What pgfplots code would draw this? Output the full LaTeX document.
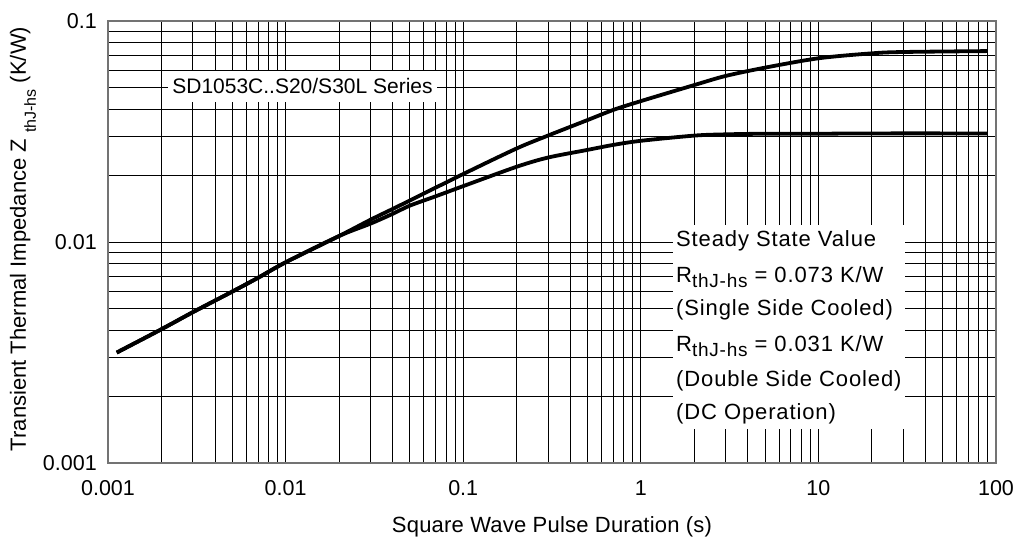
\documentclass[border=0pt]{standalone}
\usepackage{pgfplots}
\pgfplotsset{compat=1.18}
\usepackage{fontspec}
\setmainfont{Liberation Sans}
\newcommand{\fs}{\fontsize{22}{26}\selectfont}
\newcommand{\ft}{\fontsize{21.5}{26}\selectfont}
\newcommand{\subA}{\raisebox{-5pt}{\fontsize{19}{19}\selectfont thJ-hs}}
\newcommand{\subY}{\raisebox{-10pt}{\fontsize{16}{16}\selectfont thJ-hs}}
\begin{document}
\begin{tikzpicture}
\useasboundingbox (-108pt,-77pt) rectangle (909pt,463pt);
\begin{axis}[
  at={(0pt,0pt)}, anchor=south west,
  scale only axis, width=888pt, height=442pt,
  xmode=log, ymode=log,
  xmin=0.001, xmax=100, ymin=0.001, ymax=0.1,
  xtick={0.001,0.01,0.1,1,10,100},
  xticklabels={0.001,0.01,0.1,1,10,100},
  ytick={0.001,0.01,0.1},
  yticklabels={0.001,0.01,0.1},
  grid=both,
  major grid style={black, line width=0.8pt},
  minor grid style={black, line width=0.8pt},
  major tick length=0pt, minor tick length=0pt,
  axis line style={black!55, line width=1.5pt},
  /pgf/number format/assume math mode=true,
  tick label style={font=\ft},
  xticklabel style={anchor=base, yshift=-32pt, inner sep=0pt},
  yticklabel style={anchor=east, inner sep=0pt, xshift=-11pt},
  clip=false,
]
% upper curve: single side cooled
\addplot[black, line width=3.8pt, smooth] coordinates {
 (0.00112,0.00316) (0.002,0.00403) (0.003,0.00481) (0.005,0.00596)
 (0.007,0.00689) (0.01,0.00809) (0.02,0.01064) (0.03,0.0126)
 (0.04,0.0141) (0.05,0.0154) (0.1,0.0203) (0.2,0.0265) (0.3,0.0303)
 (0.5,0.0356) (0.7,0.0396) (1,0.0434) (2,0.0513) (3,0.0564)
 (5,0.0615) (10,0.0678) (20,0.0714) (30,0.0724) (90,0.0731)
};
% lower curve: double side cooled
\addplot[black, line width=3.8pt, smooth] coordinates {
 (0.00112,0.00316) (0.002,0.00403) (0.003,0.00481) (0.005,0.00596)
 (0.007,0.00689) (0.01,0.00809) (0.02,0.01064) (0.03,0.0121)
 (0.04,0.0134) (0.05,0.0146) (0.07,0.0161) (0.1,0.0179) (0.2,0.0219)
 (0.3,0.0241) (0.5,0.0261) (0.7,0.0275) (1,0.0287) (2,0.0303)
 (3,0.0307) (5,0.0309) (10,0.0309) (20,0.0310) (90,0.0310)
};
\end{axis}
% series label
\fill[white] (60pt,361pt) rectangle (329pt,392pt);
\node[anchor=base, inner sep=0pt] at (194.5pt,369.7pt) {\fontsize{21}{25}\selectfont SD1053C..S20/S30L Series};
% steady state box
\fill[white] (565pt,34pt) rectangle (797pt,238pt);
\begin{scope}[every node/.style={anchor=base west, inner sep=0pt}]
\node at (568pt,216.3pt) {\fs\addfontfeature{LetterSpace=4}Steady State Value};
\node at (568pt,180pt) {\fs\addfontfeature{LetterSpace=4}R\subA{} = 0.073 K/W};
\node at (568pt,147pt) {\fs\addfontfeature{LetterSpace=4}(Single Side Cooled)};
\node at (568pt,111.3pt) {\fs\addfontfeature{LetterSpace=4}R\subA{} = 0.031 K/W};
\node at (568pt,76.3pt) {\fs\addfontfeature{LetterSpace=4}(Double Side Cooled)};
\node at (568pt,43pt) {\fs\addfontfeature{LetterSpace=4}(DC Operation)};
\end{scope}
% axis labels
\node[anchor=base, inner sep=0pt] at (444pt,-70pt) {\fs\addfontfeature{LetterSpace=1}Square Wave Pulse Duration (s)};
\node[anchor=base, inner sep=0pt, rotate=90] at (-82pt,224pt) {\fs Transient Thermal Impedance Z \subY{} (K/W)};
\end{tikzpicture}
\end{document}
